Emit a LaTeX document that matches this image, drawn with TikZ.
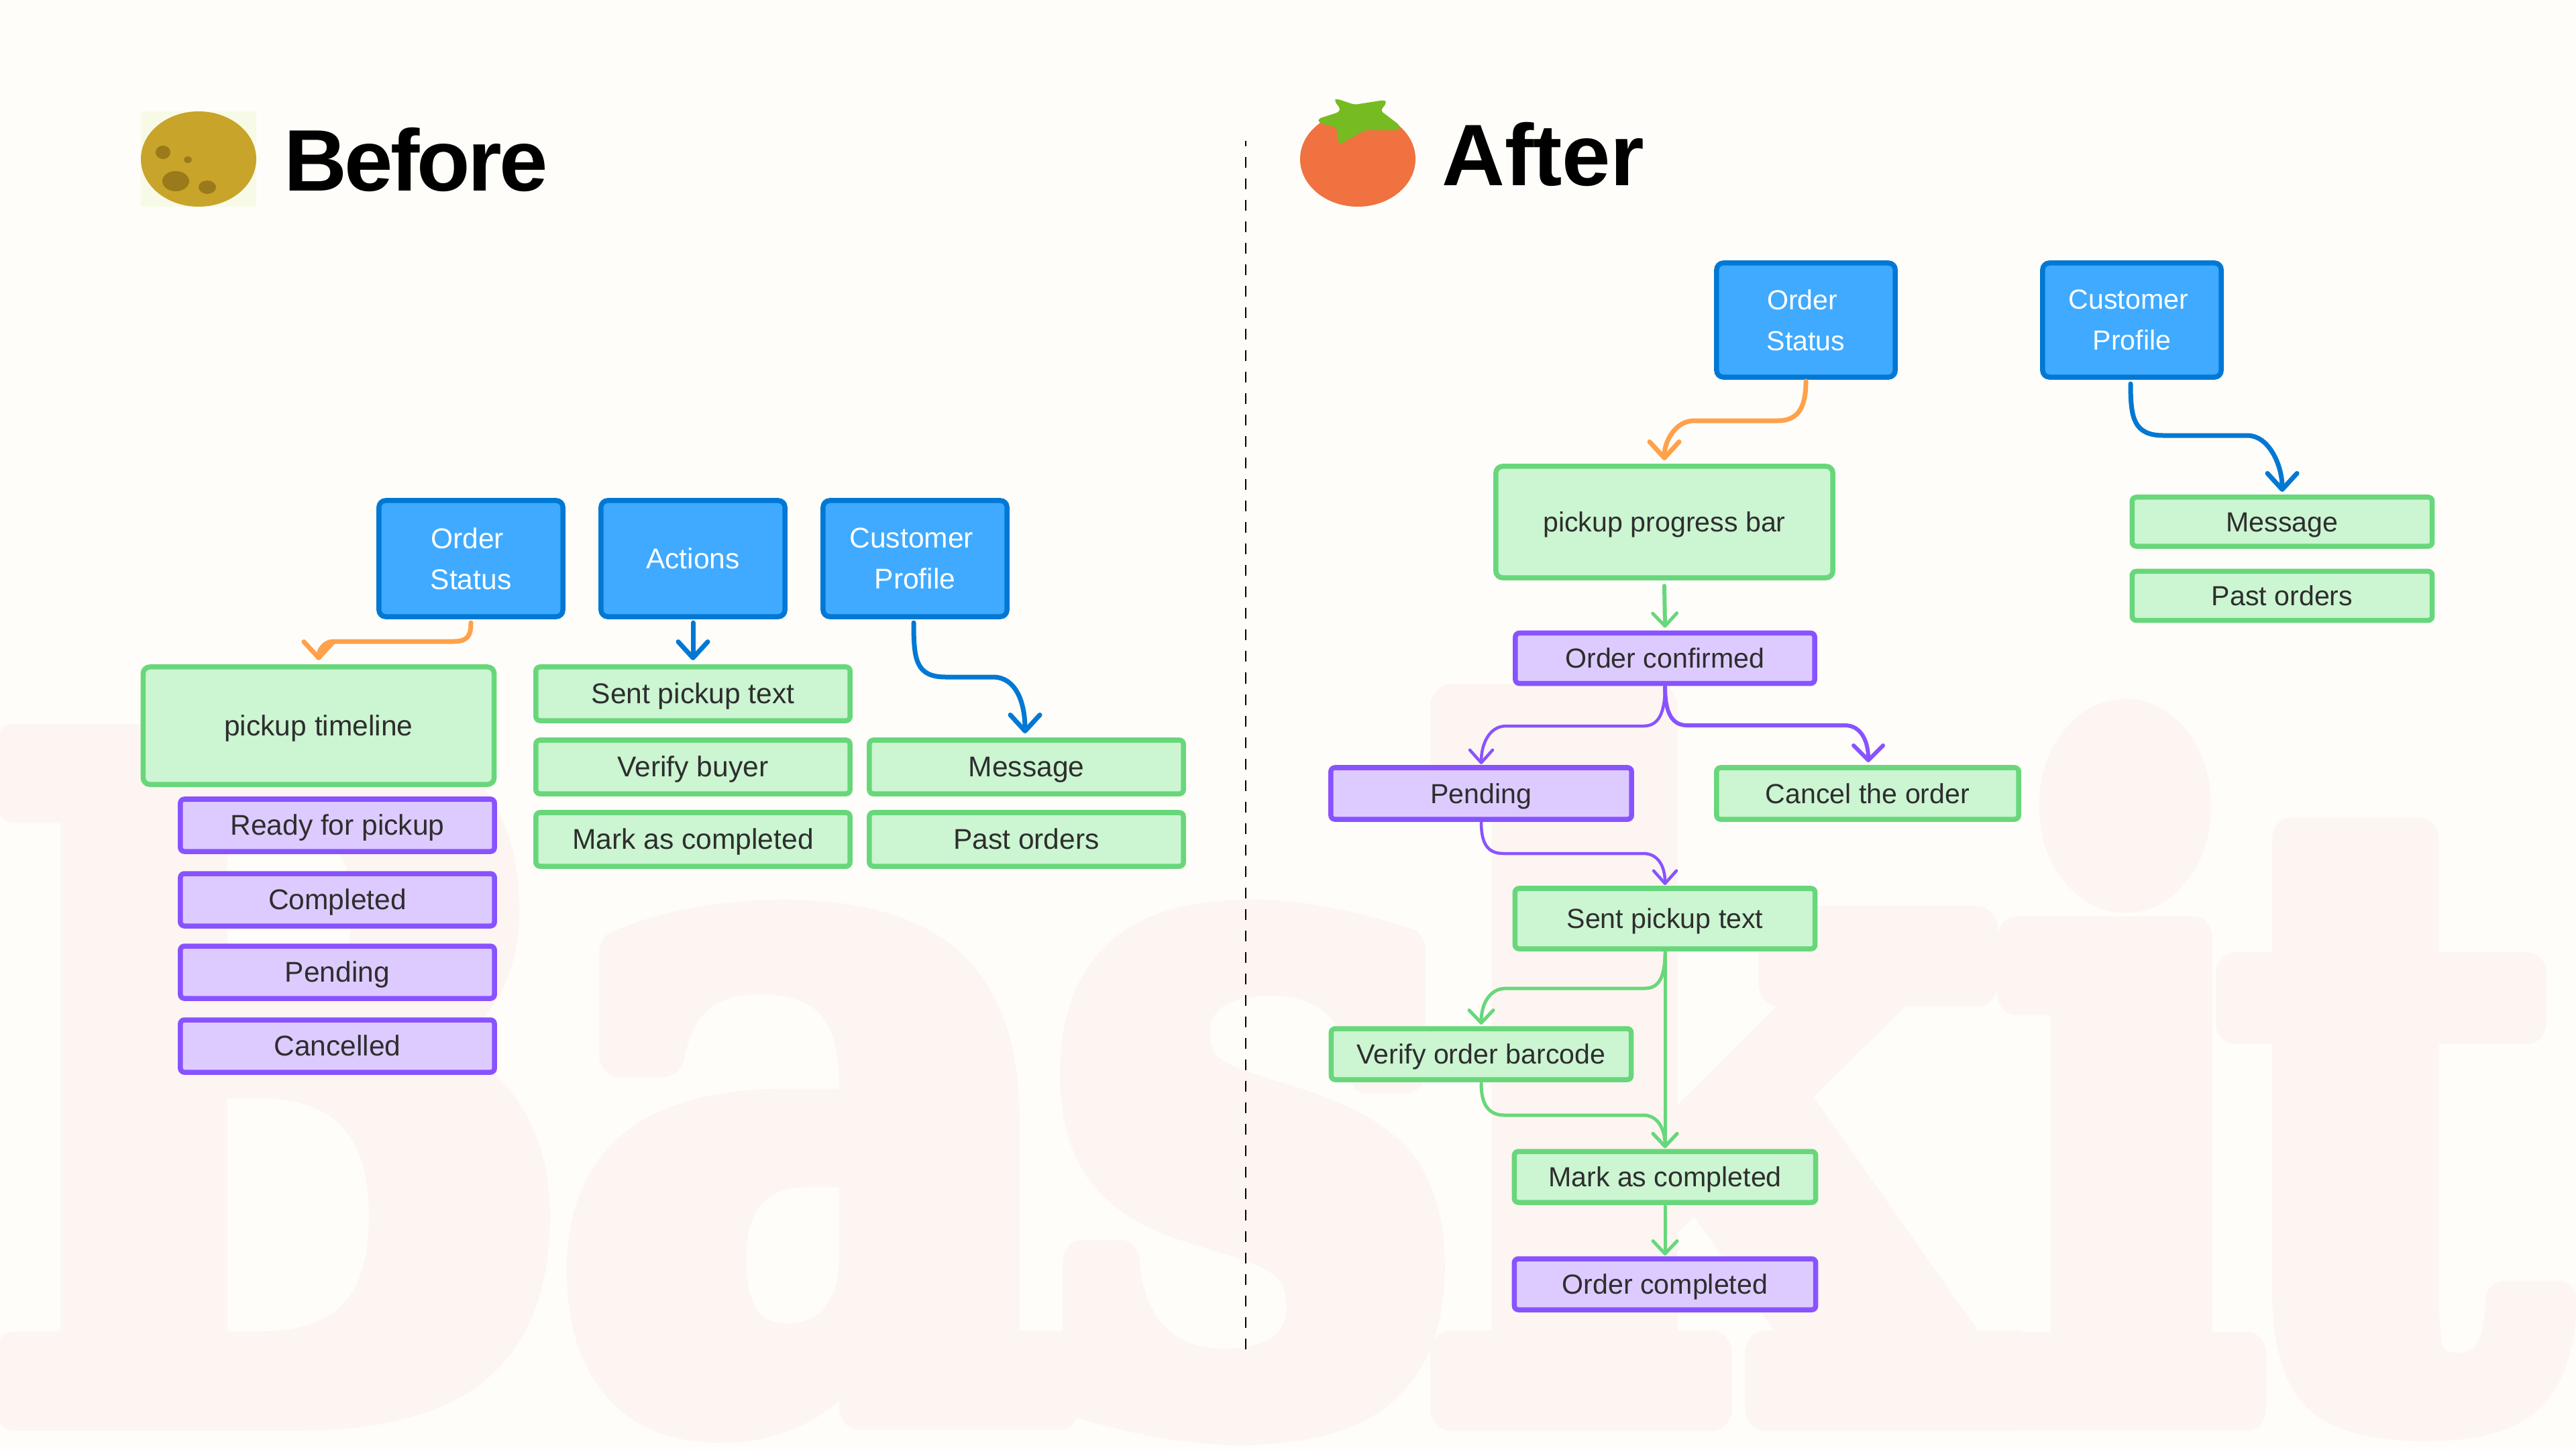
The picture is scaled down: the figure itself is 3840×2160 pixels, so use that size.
\documentclass[tikz,border=0pt]{standalone}
\usepackage{fontspec}
\setmainfont{Liberation Sans}
\newfontfamily\wmfont[FakeBold=5]{DejaVu Serif}
\newfontfamily\headfont[LetterSpace=-3]{Liberation Sans}
\newfontfamily\headfontb[LetterSpace=-0.5]{Liberation Sans}
\usetikzlibrary{arrows.meta,calc}
\definecolor{bgc}{HTML}{FEFDF9}
\definecolor{wmc}{HTML}{FDF5F1}
\definecolor{bfill}{HTML}{3FAAFF}
\definecolor{bline}{HTML}{0078D4}
\definecolor{gfill}{HTML}{CCF5D2}
\definecolor{gline}{HTML}{68D77B}
\definecolor{pfill}{HTML}{DDCBFF}
\definecolor{pline}{HTML}{8853FF}
\definecolor{oline}{HTML}{FFA14A}
\definecolor{txt}{HTML}{2E2E2E}
\definecolor{potbg}{HTML}{F7FAE6}
\tikzset{
  x=0.01cm,y=-0.01cm,
  base/.style={rounded corners=0.06cm,line width=0.075cm,inner sep=0,outer sep=0,align=center,text=txt,
    font=\fontsize{11.7}{17.4}\selectfont},
  bluebox/.style={base,rounded corners=0.1cm,draw=bline,fill=bfill,text=white,minimum width=2.74cm,minimum height=1.73cm},
  greenbox/.style={base,draw=gline,fill=gfill,text height=8.25pt,text depth=0pt},
  purplebox/.style={base,draw=pline,fill=pfill,text height=8.25pt,text depth=0pt},
  larger/.style={font=\fontsize{12.1}{17.4}\selectfont},
  heading/.style={inner sep=0,anchor=base west,text=black},
  wmark/.style={inner sep=0,anchor=south west,text=wmc,font=\fontsize{100}{100}\selectfont\wmfont\bfseries},
  thick blue/.style={draw=bline,line width=0.07cm,line cap=round,-{Straight Barb[length=0.24cm,width=0.44cm,line width=0.07cm,round]}},
  thick orange/.style={draw=oline,line width=0.07cm,line cap=round,-{Straight Barb[length=0.24cm,width=0.44cm,line width=0.07cm,round]}},
  thin green/.style={draw=gline,line width=0.05cm,line cap=round,-{Straight Barb[length=0.19cm,width=0.36cm,line width=0.05cm,round]}},
  thin purple/.style={draw=pline,line width=0.045cm,line cap=round,-{Straight Barb[length=0.19cm,width=0.34cm,line width=0.045cm,round]}},
  mid purple/.style={draw=pline,line width=0.06cm,line cap=round,-{Straight Barb[length=0.22cm,width=0.44cm,line width=0.06cm,round]}},
}
\begin{document}
\begin{tikzpicture}
\useasboundingbox (0,0) rectangle (3840,2160);
\fill[bgc] (0,0) rectangle (3840,2160);
% watermark
\begin{scope}[line join=round]
\node[wmark] (wmb) at (-30,2099) {\resizebox*{8.8cm}{9.85cm}{B}};
\node[wmark] (wma) at (825,2117) {\resizebox*{7.8cm}{7.41cm}{a}};
\node[wmark] (wms) at (1560,2120) {\resizebox*{6.1cm}{7.44cm}{s}};
\node[wmark] (wmk) at (2120,2099) {\resizebox*{8.6cm}{10.44cm}{k}};
\node[wmark] (wmi) at (2967,2099) {\resizebox*{4.10cm}{10.22cm}{i}};
\node[wmark] (wmt) at (3304,2117) {\resizebox*{5.14cm}{8.66cm}{t}};
\end{scope}
% potato
\fill[potbg] (210,166) rectangle (382,308);
\fill[fill={rgb,255:red,200;green,164;blue,42}] (296,237) ellipse [x radius=86,y radius=71];
\fill[fill={rgb,255:red,155;green,122;blue,27}] (243,227) ellipse [x radius=11,y radius=10];
\fill[fill={rgb,255:red,155;green,122;blue,27}] (280,238) ellipse [x radius=6,y radius=5];
\fill[fill={rgb,255:red,155;green,122;blue,27}] (262,270) ellipse [x radius=20,y radius=15];
\fill[fill={rgb,255:red,155;green,122;blue,27}] (309,279) ellipse [x radius=13,y radius=10];
\node[heading,font=\fontsize{37}{37}\selectfont\bfseries\headfont] (before) at (423,284) {Before};
% tomato
\fill[fill={rgb,255:red,239;green,114;blue,64}] (2024,237) ellipse [x radius=86,y radius=71];
\fill[fill={rgb,255:red,118;green,187;blue,34},rounded corners=0.04cm]
 (1992,147) -- (2019,156) -- (2064,149) -- (2067,153) -- (2058,165) -- (2087,187) -- (2085,194) -- (2035,194)
 -- (1996,216) -- (1992,190) -- (1966,183) -- (1965,177) -- (1996,167) -- (1998,162) -- (1989,150) -- cycle;
\node[heading,font=\fontsize{37}{37}\selectfont\bfseries\headfontb] (after) at (2149,276) {After};
% divider
\coordinate (divtop) at (1857,210);
\coordinate (divbot) at (1857,2020);
\draw[black,line width=0.025cm,dash pattern=on 0.16cm off 0.16cm,dash phase=0.08cm] (divtop) -- (divbot);
% BEFORE nodes
\node[bluebox,larger] (os1) at (702,832.5) {Order\hspace*{3pt}\\Status};
\node[bluebox,larger] (act1) at (1033,832.5) {Actions};
\node[bluebox,larger] (cp1) at (1364,832.5) {Customer\hspace*{3pt}\\Profile};
\node[greenbox,larger,rounded corners=0.1cm,minimum width=5.23cm,minimum height=1.75cm] (pt1) at (475,1081.5) {pickup timeline};
\node[purplebox,larger,minimum width=4.68cm,minimum height=0.78cm] (ready1) at (503,1230) {Ready for pickup};
\node[purplebox,larger,minimum width=4.68cm,minimum height=0.78cm] (compl1) at (503,1341) {Completed};
\node[purplebox,larger,minimum width=4.68cm,minimum height=0.78cm] (pend1) at (503,1449) {Pending};
\node[purplebox,larger,minimum width=4.68cm,minimum height=0.78cm] (canc1) at (503,1559) {Cancelled};
\node[greenbox,larger,minimum width=4.68cm,minimum height=0.80cm] (sent1) at (1033,1034) {Sent pickup text};
\node[greenbox,larger,minimum width=4.68cm,minimum height=0.80cm] (ver1) at (1033,1143) {Verify buyer};
\node[greenbox,larger,minimum width=4.68cm,minimum height=0.80cm] (mark1) at (1033,1251) {Mark as completed};
\node[greenbox,larger,minimum width=4.68cm,minimum height=0.80cm] (msg1) at (1530,1143) {Message};
\node[greenbox,larger,minimum width=4.68cm,minimum height=0.80cm] (past1) at (1530,1251) {Past orders};
% BEFORE connectors
\draw[thick orange] ($(os1.south)+(0,9)$) .. controls +(0,20) and +(22,0) .. (675,956) -- (497,956) .. controls +(-14,0) and +(0,-14) .. ($(pt1.north)+(0,-10)$);
\draw[thick blue] ($(act1.south)+(0,9)$) -- ($(sent1.north)+(0,-10)$);
\draw[thick blue] ($(cp1.south)+(-2,9)$) .. controls +(0,55) and +(-45,0) .. (1410,1009) -- (1480,1009) .. controls +(35,0) and +(0,-45) .. ($(msg1.north)+(-2,-10)$);
% AFTER nodes
\node[bluebox,minimum width=2.66cm,minimum height=1.70cm] (os2) at (2692,477) {Order\hspace*{3pt}\\Status};
\node[bluebox,minimum width=2.66cm,minimum height=1.70cm] (cp2) at (3178,477) {Customer\hspace*{3pt}\\Profile};
\node[greenbox,rounded corners=0.1cm,minimum width=5.02cm,minimum height=1.66cm] (ppb) at (2481,778) {pickup progress bar};
\node[purplebox,minimum width=4.46cm,minimum height=0.75cm] (conf) at (2482,981) {Order confirmed};
\node[purplebox,minimum width=4.48cm,minimum height=0.77cm] (pend2) at (2208,1182.5) {Pending};
\node[greenbox,minimum width=4.50cm,minimum height=0.77cm] (canc2) at (2784,1182.5) {Cancel the order};
\node[greenbox,minimum width=4.47cm,minimum height=0.90cm] (sent2) at (2482,1369) {Sent pickup text};
\node[greenbox,minimum width=4.47cm,minimum height=0.76cm] (ver2) at (2208,1571) {Verify order barcode};
\node[greenbox,minimum width=4.49cm,minimum height=0.76cm] (mark2) at (2482,1754) {Mark as completed};
\node[purplebox,minimum width=4.49cm,minimum height=0.76cm] (done) at (2482,1914) {Order completed};
\node[greenbox,minimum width=4.47cm,minimum height=0.73cm] (msg2) at (3402,777.5) {Message};
\node[greenbox,minimum width=4.47cm,minimum height=0.73cm] (past2) at (3402,888) {Past orders};
% AFTER connectors
\draw[thick orange] ($(os2.south)+(0,6)$) .. controls +(0,40) and +(30,0) .. (2650,627) -- (2525,627) .. controls +(-26,0) and +(0,-30) .. ($(ppb.north)+(0,-9)$);
\draw[thick blue] ($(cp2.south)+(-2,10)$) .. controls +(0,50) and +(-45,0) .. (3225,649) -- (3350,649) .. controls +(32,0) and +(0,-40) .. ($(msg2.north)+(0,-8)$);
\draw[thin green,line width=0.06cm] ($(ppb.south)+(0,12)$) -- ($(conf.north)+(0,-8)$);
\draw[thin purple] ($(conf.south)+(0,5)$) .. controls +(0,40) and +(22,0) .. (2450,1082) -- (2245,1082) .. controls +(-25,0) and +(0,-30) .. ($(pend2.north)+(0,-5)$);
\draw[mid purple] ($(conf.south)+(0,5)$) .. controls +(0,40) and +(-22,0) .. (2515,1081) -- (2750,1081) .. controls +(25,0) and +(0,-30) .. ($(canc2.north)+(1,-8)$);
\draw[thin purple] ($(pend2.south)+(0,4)$) .. controls +(0,30) and +(-25,0) .. (2241,1272) -- (2450,1272) .. controls +(20,0) and +(0,-30) .. ($(sent2.north)+(0,-5)$);
\draw[thin green] ($(sent2.south)+(0,5)$) .. controls +(0,35) and +(22,0) .. (2452,1473) -- (2245,1473) .. controls +(-25,0) and +(0,-30) .. ($(ver2.north)+(0,-6)$);
\draw[thin green] ($(sent2.south)+(0,5)$) -- ($(mark2.north)+(0,-5)$);
\draw[thin green] ($(ver2.south)+(0,6)$) .. controls +(0,30) and +(-25,0) .. (2243,1662) -- (2450,1662) .. controls +(20,0) and +(0,-30) .. ($(mark2.north)+(0,-5)$);
\draw[thin green] ($(mark2.south)+(0,6)$) -- ($(done.north)+(0,-5)$);
\end{tikzpicture}
\end{document}
